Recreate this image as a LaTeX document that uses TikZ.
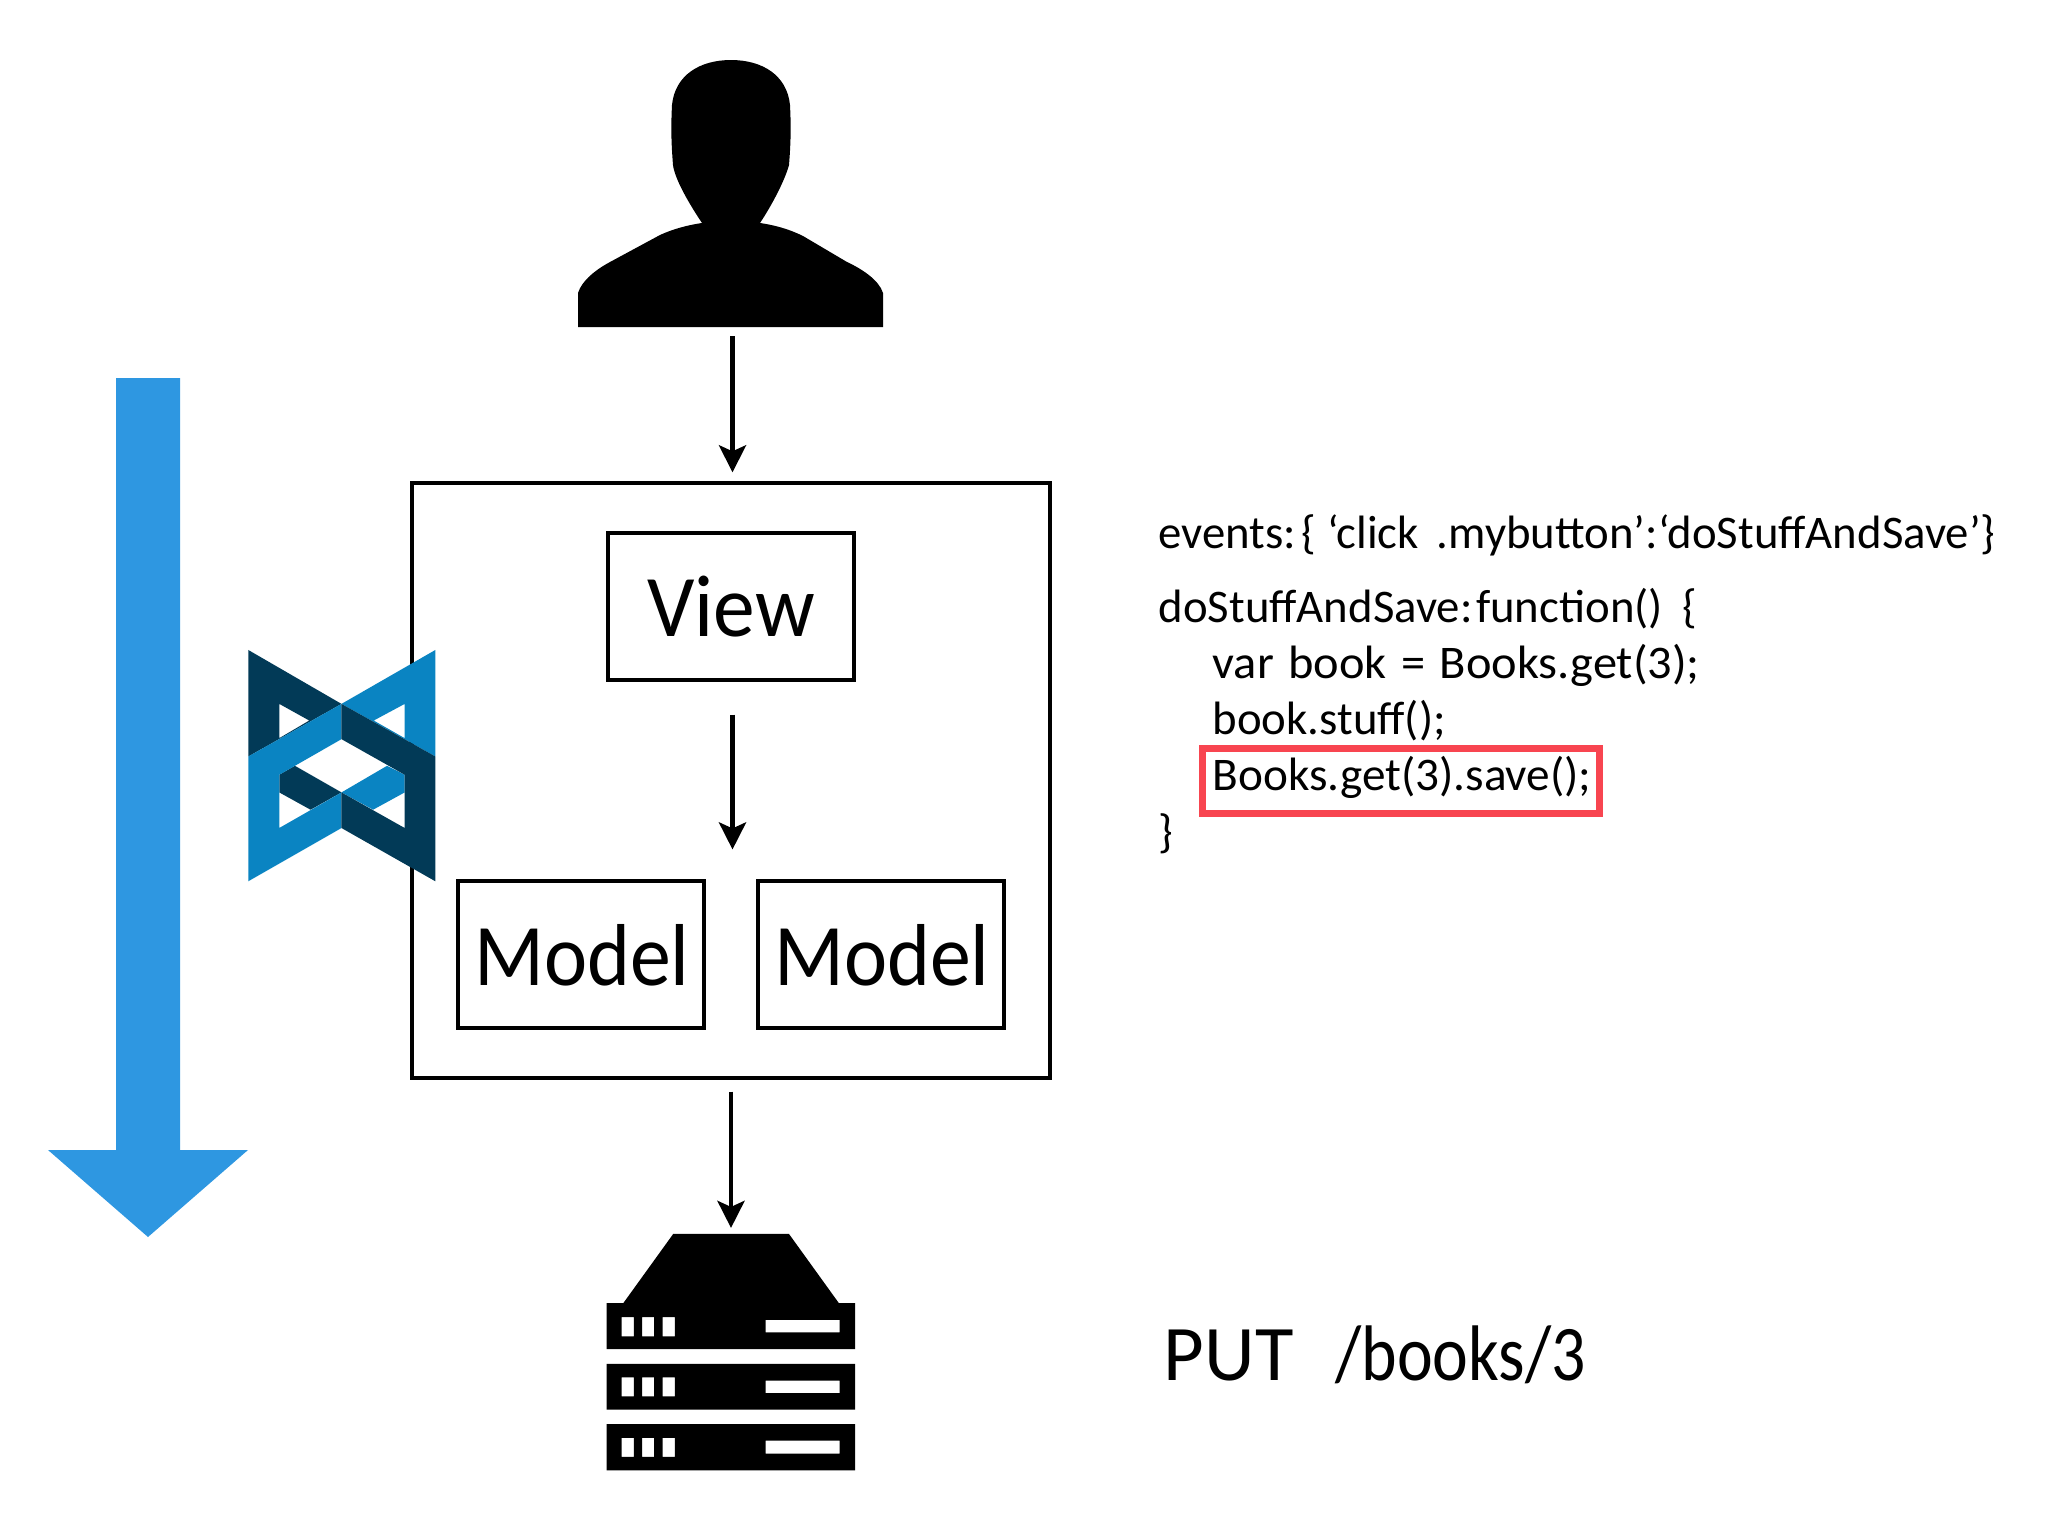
\documentclass[tikz,border=0pt]{standalone}
\usepackage{fontspec}
\usepackage{graphicx}
\setmainfont{Carlito}
\usetikzlibrary{arrows.meta}
\definecolor{bluearrow}{HTML}{2E97E1}
\definecolor{logolight}{HTML}{0A84C2}
\definecolor{logodark}{HTML}{023A57}
\definecolor{redbox}{HTML}{F84550}
\tikzset{
  box/.style={draw=black,line width=0.04cm,fill=none,inner sep=0pt},
  ghost/.style={inner sep=0pt,outer sep=0pt},
  flow/.style={line width=0.047cm,-{Stealth[length=0.27cm,width=0.27cm,inset=0.06cm]}},
  boxlabel/.style={font=\fontsize{25}{28}\selectfont,inner sep=0pt,anchor=base},
  code/.style={font=\fontsize{13.3}{15}\selectfont,inner sep=0pt,anchor=base west},
}
\begin{document}
\begin{tikzpicture}[x=0.01cm,y=-0.01cm]
\useasboundingbox (0,0) rectangle (2048,1536);
% big arrow
\fill[bluearrow] (116,378) -- (180,378) -- (180,1150) -- (248,1150) -- (148,1237) -- (48,1150) -- (116,1150) -- cycle;
% nodes
\node[ghost,minimum width=3.05cm,minimum height=2.67cm] (person) at (731,193.5) {};
\node[box,minimum width=6.38cm,minimum height=5.94cm] (outer) at (731,780.5) {};
\node[box,minimum width=2.46cm,minimum height=1.46cm] (view) at (731,606.5) {};
\node[box,minimum width=2.46cm,minimum height=1.46cm] (modela) at (581,954.5) {};
\node[box,minimum width=2.46cm,minimum height=1.46cm] (modelb) at (881,954.5) {};
\node[ghost,minimum width=2.5cm,minimum height=2.38cm] (server) at (731,1353) {};
\node[boxlabel] (viewtext) at (731,636) {\scalebox{0.95}[1]{View}};
\node[boxlabel] (modelatext) at (582,985) {\scalebox{0.93}[1]{Model}};
\node[boxlabel] (modelbtext) at (882,985) {\scalebox{0.93}[1]{Model}};
% connectors
\draw[flow,shorten <=0.09cm,shorten >=0.09cm] ([xshift=0.015cm]person.south) -- ([xshift=0.015cm]outer.north);
\draw[flow,shorten <=0.33cm,shorten >=0.30cm] ([xshift=0.015cm]view.south) -- ([xshift=0.015cm]view.south |- modela.north);
\draw[flow,shorten <=0.12cm,shorten >=0cm] (outer.south) -- ([yshift=0.06cm]server.north);
% person
\fill[black] (578,327) -- (578,293)
  .. controls (582,280) and (597,269) .. (610,262)
  -- (660,235)
  .. controls (673,229) and (688,225) .. (702,223)
  .. controls (690,205) and (675,180) .. (673,165)
  .. controls (671,140) and (671,125) .. (672,105)
  .. controls (675,75) and (700,60) .. (731,60)
  .. controls (762,60) and (787,75) .. (790,105)
  .. controls (791,125) and (791,140) .. (789,165)
  .. controls (785,180) and (772,205) .. (760,223)
  .. controls (774,225) and (789,229) .. (803,236)
  -- (847,262)
  .. controls (862,269) and (879,280) .. (883,293)
  -- (883,327) -- cycle;
% server
\begin{scope}[shift={(580,1210)},x=0.00333cm,y=-0.00333cm]
\fill[black,even odd rule] (80,280) -- (130,280) -- (280,72) -- (628,72) -- (778,280) -- (827,280) -- (827,418) -- (80,418) -- cycle
  (125,322) rectangle (162,380) (187,322) rectangle (223,380) (248,322) rectangle (285,380) (558,330) rectangle (780,368);
\fill[black,even odd rule] (80,462) rectangle (827,600)
  (125,503) rectangle (162,560) (187,503) rectangle (223,560) (248,503) rectangle (285,560) (558,513) rectangle (780,550);
\fill[black,even odd rule] (80,643) rectangle (827,782)
  (125,685) rectangle (162,742) (187,685) rectangle (223,742) (248,685) rectangle (285,742) (558,693) rectangle (780,732);
\end{scope}
% logo
\begin{scope}[shift={(230,630)},x=0.00333cm,y=-0.00333cm]
\fill[logodark,even odd rule] (55,60) -- (335,222) -- (55,380) -- cycle (148,222) -- (238,272) -- (148,325) -- cycle;
\fill[logolight,even odd rule] (617,60) -- (617,380) -- (335,222) -- cycle (525,222) -- (525,325) -- (432,272) -- cycle;
\fill[logodark] (195,408) -- (335,488) -- (242,540) -- (148,488) -- (148,435) -- cycle;
\fill[logolight] (335,488) -- (472,408) -- (525,435) -- (525,488) -- (430,540) -- cycle;
\fill[logolight] (55,380) -- (335,222) -- (335,328) -- (148,435) -- (148,595) -- (335,488) -- (335,595) -- (55,755) -- cycle;
\fill[logodark] (335,222) -- (617,380) -- (617,755) -- (335,595) -- (335,488) -- (525,595) -- (525,435) -- (335,328) -- cycle;
\end{scope}
% code
\node[code] (l1) at (1158,548) {events:\hspace{0.055cm}\{ ‘click\hspace{0.18cm}.mybutton’:‘doStuffAndSave’\}};
\node[code] (l2) at (1158,622) {doStuffAndSave:\hspace{0.035cm}function()\hspace{0.2cm}\{};
\node[code] (l3) at (1212,678) {\scalebox{1.035}[1]{var\hspace{0.14cm}book\hspace{0.14cm}=\hspace{0.14cm}Books.get(3);}};
\node[code] (l4) at (1212,734) {book.stuff();};
\node[code] (l5) at (1212,790) {\scalebox{1.01}[1]{Books.get(3).save();}};
\node[code] (l6) at (1158,847) {\}};
\node[ghost,draw=redbox,line width=0.065cm,minimum width=3.97cm,minimum height=0.65cm] (hl) at (1401,781) {};
\node[font=\fontsize{22.4}{26}\selectfont,inner sep=0pt,anchor=base west] (put) at (1163,1380) {PUT\hspace{0.42cm}\scalebox{0.86}[1]{/books/3}};
\end{tikzpicture}
\end{document}
